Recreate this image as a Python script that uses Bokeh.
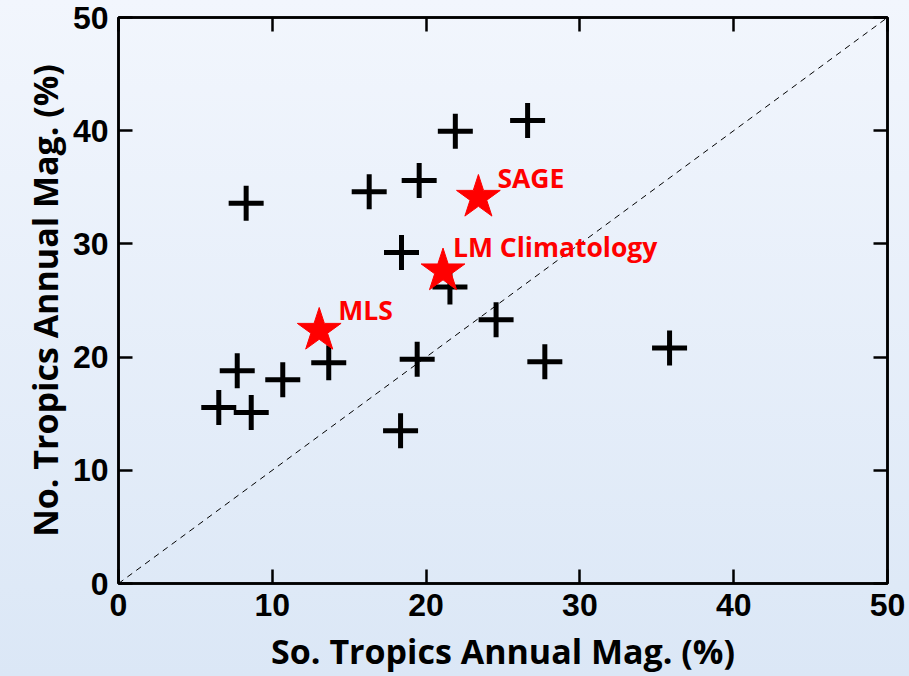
from bokeh.plotting import figure
from bokeh.models import LinearAxis, FixedTicker, ColumnDataSource, Range1d, CustomLabelingPolicy
from bokeh.core.properties import value
from bokeh.embed import file_html
from bokeh.resources import INLINE

# Model points (So. Tropics vs No. Tropics annual magnitude, %)
model_x = [8.3, 16.3, 19.55, 18.4, 21.9, 26.6, 24.55, 21.55, 13.67, 19.42,
           7.72, 10.68, 6.52, 8.63, 18.34, 27.72, 35.83]
model_y = [33.6, 34.6, 35.6, 29.25, 39.95, 40.9, 23.3, 26.2, 19.5, 19.8,
           18.8, 18.0, 15.55, 15.1, 13.5, 19.6, 20.8]

# Observations
obs_names = ["SAGE", "LM Climatology", "MLS"]
obs_x = [23.4, 21.1, 13.05]
obs_y = [34.1, 27.6, 22.35]

ticks = [0, 10, 20, 30, 40, 50]
diag = [0, 50]

p = figure(width=909, height=676, output_backend="svg", toolbar_location=None,
           x_range=Range1d(0, 50), y_range=Range1d(0, 50),
           x_axis_location=None, y_axis_location=None,
           min_border_left=118, min_border_right=22,
           min_border_top=17, min_border_bottom=92)
p.grid.visible = False
p.background_fill_alpha = 0
p.border_fill_alpha = 0
p.outline_line_color = "black"
p.outline_line_width = 2.5
p.styles = {"background-image": "linear-gradient(#f2f6fd, #dbe7f6)"}

def make_axis(labels, label_text=None, label_standoff=8):
    ax = LinearAxis(ticker=FixedTicker(ticks=ticks))
    ax.axis_line_color = "black"
    ax.axis_line_width = 2.5
    ax.major_tick_in = 14
    ax.major_tick_out = 0
    ax.major_tick_line_width = 2.5
    ax.major_tick_line_color = "black"
    ax.minor_tick_line_color = None
    if labels:
        ax.major_label_text_font = "Liberation Sans"
        ax.major_label_text_font_style = "bold"
        ax.major_label_text_font_size = "32px"
        ax.major_label_text_color = "black"
        ax.major_label_standoff = 10
        ax.axis_label = label_text
        ax.axis_label_text_font = "Open Sans"
        ax.axis_label_text_font_style = "bold"
        ax.axis_label_text_font_size = "34px"
        ax.axis_label_text_color = "black"
        ax.axis_label_standoff = label_standoff
    else:
        ax.major_label_text_font_size = "1px"
        ax.major_label_standoff = 0
        ax.major_label_policy = CustomLabelingPolicy(code="return new Set()")
    return ax

p.add_layout(make_axis(True, "So. Tropics Annual Mag. (%)", 9), "below")
p.add_layout(make_axis(True, "No. Tropics Annual Mag. (%)", 2), "left")
p.add_layout(make_axis(False), "above")
p.add_layout(make_axis(False), "right")

p.line(diag, diag, line_color="black", line_width=1, line_dash="6 5")

p.scatter(model_x, model_y, marker="cross", size=35, line_color="black",
          line_width=5)

src = ColumnDataSource(dict(x=obs_x, y=obs_y, name=obs_names,
                            dx=[19, 10, 19], dy=[-19, -24, -20]))
p.scatter("x", "y", source=src, marker="star", size=46, fill_color="red",
          line_color="red", line_width=1)
p.text("x", "y", text="name", source=src, x_offset="dx", y_offset="dy",
       text_color="red", text_font=value("Open Sans"), text_font_style="bold",
       text_font_size="26.5px", text_baseline="middle", text_align="left")

open("out.html", "w").write(file_html(p, INLINE))
